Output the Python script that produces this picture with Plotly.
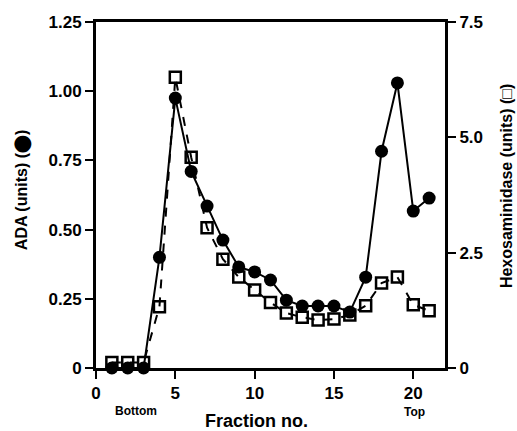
import plotly.graph_objects as go

fractions = list(range(1, 22))
ada = [0.0, 0.0, 0.0, 0.40, 0.975, 0.71, 0.585, 0.462, 0.365, 0.347, 0.318,
       0.245, 0.224, 0.224, 0.224, 0.202, 0.328, 0.783, 1.03, 0.567, 0.614]
hexo = [0.12, 0.12, 0.12, 1.33, 6.3, 4.57, 3.04, 2.36, 1.97, 1.69, 1.42,
        1.19, 1.10, 1.04, 1.06, 1.15, 1.35, 1.84, 1.97, 1.37, 1.24]

left_ticks = [0, 0.25, 0.5, 0.75, 1.0, 1.25]
left_text = ["0", "0.25", "0.50", "0.75", "1.00", "1.25"]
right_ticks = [0, 2.5, 5.0, 7.5]
right_text = ["0", "2.5", "5.0", "7.5"]
x_ticks = [0, 5, 10, 15, 20]

FONT = "Liberation Sans, Arial, sans-serif"

fig = go.Figure()
fig.add_trace(go.Scatter(
    x=fractions, y=hexo, yaxis="y2", mode="lines+markers",
    line=dict(color="black", width=2, dash="dash"),
    marker=dict(symbol="square-open", size=11, color="black", line=dict(width=2.5)),
    cliponaxis=False, showlegend=False))
fig.add_trace(go.Scatter(
    x=fractions, y=ada, mode="lines+markers",
    line=dict(color="black", width=2),
    marker=dict(symbol="circle", size=13, color="black"),
    cliponaxis=False, showlegend=False))

tickfont = dict(family=FONT, size=17, color="black", weight="bold")
titlefont = dict(family=FONT, size=16, color="black", weight="bold")

common = dict(ticks="outside", ticklen=8, tickwidth=2, tickcolor="black",
              showline=True, linewidth=3, linecolor="black", showgrid=False,
              zeroline=False, tickfont=tickfont, automargin=False)

ann = dict(showarrow=False, xanchor="center", yanchor="middle")

fig.update_layout(
    width=517, height=431,
    margin=dict(l=96, r=72, t=22, b=63),
    paper_bgcolor="white", plot_bgcolor="white",
    xaxis=dict(range=[0, 22], tickvals=x_ticks, mirror=True, **common),
    yaxis=dict(range=[0, 1.25], tickvals=left_ticks, ticktext=left_text, **common),
    yaxis2=dict(range=[0, 7.5], tickvals=right_ticks, ticktext=right_text, overlaying="y",
                side="right", **common),
    annotations=[
        dict(x=2.52, y=0, xref="x", yref="paper", yshift=-43, text="Bottom",
             font=dict(family=FONT, size=12, color="black", weight="bold"), **ann),
        dict(x=20.05, y=0, xref="x", yref="paper", yshift=-44, text="Top",
             font=dict(family=FONT, size=12, color="black", weight="bold"), **ann),
        dict(x=0.461, y=0, xref="paper", yref="paper", yshift=-53, text="Fraction no.",
             font=dict(family=FONT, size=18, color="black", weight="bold"), **ann),
        dict(x=-0.212, y=0.514, xref="paper", yref="paper",
             text="ADA (units) (⬤)",
             textangle=-90, font=titlefont, **ann),
        dict(x=1.175, y=0.526, xref="paper", yref="paper", text="Hexosaminidase (units) (□)",
             textangle=-90, font=titlefont, **ann),
    ],
)

fig.write_html("out.html")
